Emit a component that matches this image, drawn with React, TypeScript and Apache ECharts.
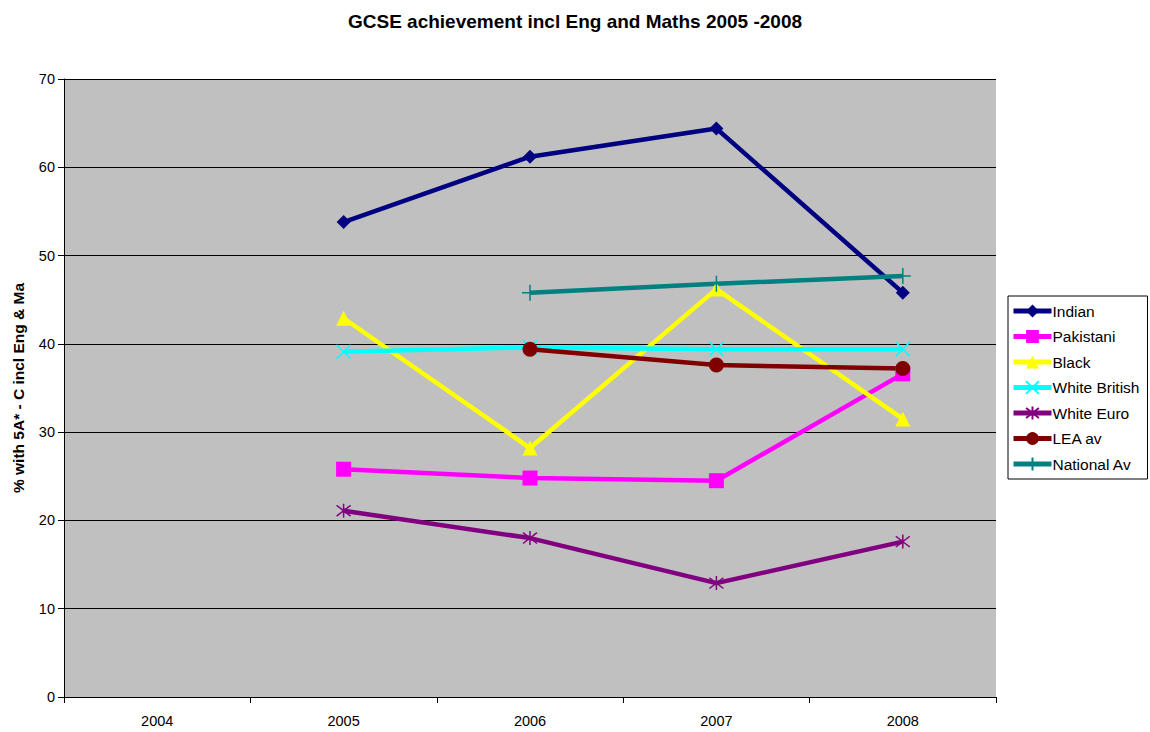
import React, { useEffect, useRef } from "react";
import * as echarts from "echarts";

const years = ["2004", "2005", "2006", "2007", "2008"];
const indian = [null, 53.8, 61.2, 64.4, 45.8];
const pakistani = [null, 25.8, 24.8, 24.5, 36.6];
const black = [null, 42.9, 28.2, 46.2, 31.5];
const whiteBritish = [null, 39.1, 39.6, 39.4, 39.4];
const whiteEuro = [null, 21.1, 18.0, 12.9, 17.6];
const leaAv = [null, null, 39.4, 37.6, 37.2];
const nationalAv = [null, null, 45.8, 46.8, 47.7];

const X_PATH = "path://M0,0L10,10M10,0L0,10";
const STAR_PATH = "path://M0,0L10,10M10,0L0,10M5,-1.5L5,11.5";
const PLUS_PATH = "path://M5,0L5,10M0,5L10,5";

export default function App() {
  const ref = useRef<HTMLDivElement>(null);
  useEffect(() => {
    if (!ref.current) return;
    const chart = echarts.init(ref.current, undefined, { renderer: "svg" });
    const mk = (name: string, data: any[], color: string, symbol: string, size: number, stroke = false) => ({
      name,
      type: "line",
      data,
      connectNulls: false,
      symbol,
      symbolSize: size,
      showSymbol: true,
      lineStyle: { color, width: 4.5 },
      itemStyle: stroke
        ? { color: "rgba(0,0,0,0)", borderColor: color, borderWidth: 1.5 }
        : { color, borderColor: color, borderWidth: 0 },
      emphasis: { disabled: true },
    });
    chart.setOption({
      animation: false,
      textStyle: { fontFamily: "Liberation Sans, Arial, sans-serif" },
      title: {
        text: "GCSE achievement incl Eng and Maths 2005 -2008",
        left: "center",
        top: 7,
        textStyle: { fontSize: 19, fontWeight: "bold", color: "#000", fontFamily: "Liberation Sans, Arial, sans-serif" },
      },
      grid: {
        left: 64,
        right: 154,
        top: 79,
        bottom: 35,
        show: true,
        backgroundColor: "#C0C0C0",
        borderWidth: 0,
      },
      legend: {
        orient: "vertical",
        left: 1008,
        top: 296,
        padding: [7, 8, 7, 3],
        itemGap: 9.5,
        itemWidth: 38,
        itemHeight: 16,
        backgroundColor: "#fff",
        borderColor: "#000",
        borderWidth: 1,
        borderRadius: 0,
        lineStyle: { width: 5 },
        textStyle: { fontSize: 15.5, color: "#000", padding: [0, 0, 0, -4] },
        data: ["Indian", "Pakistani", "Black", "White British", "White Euro", "LEA av", "National Av"],
      },
      xAxis: {
        type: "category",
        data: years,
        boundaryGap: true,
        axisLine: { lineStyle: { color: "#000", width: 1 } },
        axisTick: { show: true, alignWithLabel: false, length: 6, lineStyle: { color: "#000" } },
        axisLabel: { color: "#000", fontSize: 14.5, margin: 16 },
        splitLine: { show: false },
      },
      yAxis: {
        type: "value",
        min: 0,
        max: 70,
        interval: 10,
        name: "% with 5A* - C incl Eng & Ma",
        nameLocation: "middle",
        nameGap: 38,
        nameTextStyle: { fontSize: 15.5, fontWeight: "bold", color: "#000" },
        axisLine: { show: true, lineStyle: { color: "#000", width: 1 } },
        axisTick: { show: true, length: 6, lineStyle: { color: "#000" } },
        axisLabel: { color: "#000", fontSize: 14.5, margin: 9 },
        splitLine: { show: true, lineStyle: { color: "#000", width: 1 } },
      },
      series: [
        mk("Indian", indian, "#000080", "diamond", 14),
        mk("Pakistani", pakistani, "#FF00FF", "rect", 15),
        mk("Black", black, "#FFFF00", "triangle", 15),
        mk("White British", whiteBritish, "#00FFFF", X_PATH, 14, true),
        mk("White Euro", whiteEuro, "#800080", STAR_PATH, 14, true),
        mk("LEA av", leaAv, "#800000", "circle", 15),
        mk("National Av", nationalAv, "#008080", PLUS_PATH, 16, true),
      ],
    });
    return () => chart.dispose();
  }, []);
  return <div ref={ref} style={{ position: "fixed", left: 0, top: 0, width: 1150, height: 732, background: "#fff" }} />;
}
